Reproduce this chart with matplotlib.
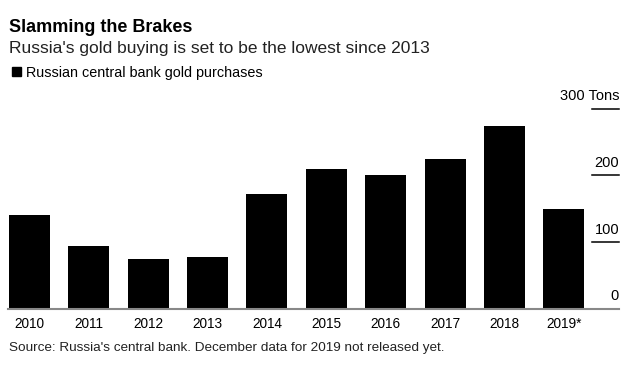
import matplotlib
matplotlib.use('Agg')
import matplotlib.pyplot as plt
from matplotlib.patches import Rectangle
import matplotlib.transforms as mtransforms

plt.rcParams['font.family'] = ['Liberation Sans', 'DejaVu Sans']

# data (tons)
years = ['2010', '2011', '2012', '2013', '2014', '2015', '2016', '2017', '2018', '2019*']
purchases = [140, 93.5, 75, 78, 172, 209, 200, 224, 274, 150]
yticks = [0, 100, 200, 300]
ylabels = ['0', '100', '200', '300 Tons']

W, H = 636, 368
fig = plt.figure(figsize=(W/100, H/100), dpi=100)
ax = fig.add_axes([8/W, 1-308.7/H, (619-8)/W, (308.7-108.7)/H])

x = list(range(len(years)))
ax.bar(x, purchases, width=0.69, color='black', zorder=2)
ax.set_xlim(-0.362, 9.93)
ax.set_ylim(0, 300)

for s in ['top', 'right', 'left']:
    ax.spines[s].set_visible(False)
ax.spines['bottom'].set_color('#888888')
ax.spines['bottom'].set_linewidth(1.5)
ax.spines['bottom'].set_zorder(3)

ax.set_yticks([])
ax.set_xticks(x)
ax.set_xticklabels(years, fontsize=9.8)
ax.tick_params(axis='x', length=0, pad=6)

# right-hand value scale: short rules with labels sitting above them
trans = mtransforms.blended_transform_factory(ax.transAxes, ax.transData)
for v, lab in zip(yticks, ylabels):
    if v > 0:
        ax.plot([0.956, 1.0], [v, v], color='black', lw=1.1, transform=trans,
                clip_on=False)
    ax.annotate(lab, xy=(1.0, v), xycoords=trans, xytext=(0, 6),
                textcoords='offset points', ha='right', va='baseline',
                fontsize=10.5)

fig.text(9/W, 1-31.7/H, 'Slamming the Brakes', fontsize=13, fontweight='bold',
         va='baseline', ha='left')
fig.text(9/W, 1-53.3/H, "Russia's gold buying is set to be the lowest since 2013",
         fontsize=12.5, va='baseline', ha='left', color='#222222')
fig.patches.append(Rectangle((11.5/W, 1-76/H), 9/W, 9/H, color='black',
                             transform=fig.transFigure, figure=fig))
fig.text(26.5/W, 1-76.7/H, 'Russian central bank gold purchases', fontsize=10.4,
         va='baseline', ha='left')
fig.text(9/W, 1-351/H, "Source: Russia's central bank. December data for 2019 not released yet.",
         fontsize=9.7, va='baseline', ha='left', color='#222222')

fig.savefig('out.png', dpi=100)
